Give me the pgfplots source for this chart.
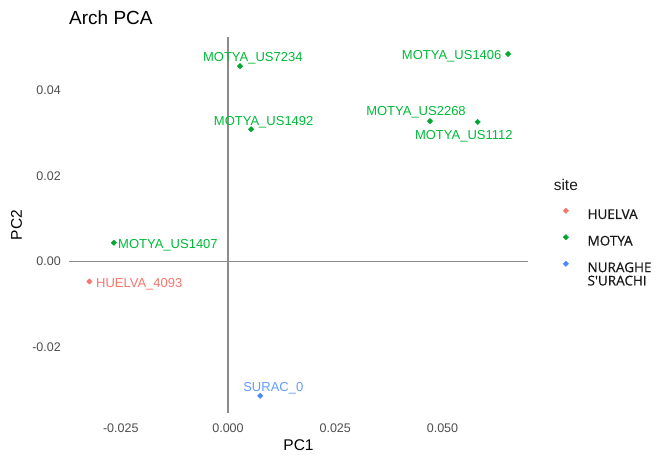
\documentclass[border=0pt]{standalone}
\usepackage{fontspec}
\setmainfont{Liberation Sans}
\newfontfamily\legfont{Open Sans}[FakeBold=0.6]
\usepackage{pgfplots}
\pgfplotsset{compat=1.18}
\definecolor{hue}{HTML}{F8766D}
\definecolor{mot}{HTML}{00BA38}
\definecolor{motpt}{HTML}{00A832}
\definecolor{nur}{HTML}{619CFF}
\definecolor{nurpt}{HTML}{4A88FF}
\definecolor{ticktxt}{HTML}{4D4D4D}
\definecolor{refline}{HTML}{8C8C8C}
\begin{document}
\begin{tikzpicture}
\useasboundingbox (0,0) rectangle (657pt,455pt);
\begin{axis}[
  at={(69pt,42pt)}, anchor=south west,
  scale only axis, width=459pt, height=376pt,
  xmin=-0.03706, xmax=0.06993, ymin=-0.03519, ymax=0.05226,
  axis line style={draw=none},
  tick style={draw=none},
  major tick length=0pt,
  xtick={-0.025,0,0.025,0.05},
  ytick={-0.02,0,0.02,0.04},
  /pgf/number format/assume math mode=true,
  xticklabel style={/pgf/number format/fixed,/pgf/number format/precision=3,/pgf/number format/fixed zerofill, font=\fontsize{12.5}{14}\selectfont, text=ticktxt, anchor=north, inner sep=0pt, yshift=-11pt},
  yticklabel style={/pgf/number format/fixed,/pgf/number format/precision=2,/pgf/number format/fixed zerofill, font=\fontsize{12.5}{14}\selectfont, text=ticktxt, anchor=east, inner sep=0pt, xshift=-8pt},
  scaled ticks=false,
  title={Arch PCA},
  title style={at={(axis description cs:0,1.0319)}, anchor=base west, yshift=-6pt, font=\fontsize{19}{21}\selectfont, inner sep=0pt},
  xlabel={PC1},
  xlabel style={at={(axis description cs:0.5,-0.0997)}, anchor=base, font=\fontsize{15.5}{17}\selectfont, inner sep=0pt},
  ylabel={PC2},
  ylabel style={at={(axis description cs:-0.1144,0.5)}, anchor=center, font=\fontsize{15.5}{17}\selectfont, inner sep=0pt},
  legend cell align=left,
  legend image code/.code={\draw[#1] plot coordinates {(0pt,4.8pt)};},
  legend style={at={(axis description cs:1.0767,0.6133)}, anchor=north west, draw=none, fill=none, inner sep=0pt, outer sep=0pt,
    font=\legfont\fontsize{13.5}{15}\selectfont, text=black!90,
    column sep=19pt, row sep=12.6pt,
    nodes={inner sep=0pt, text height=10pt, text depth=3pt}},
  clip=false,
]
\addlegendimage{empty legend}
\addlegendentry{\makebox[0pt][l]{\hspace*{-34.3pt}\raisebox{2pt}{\rmfamily\fontsize{15.5}{17}\selectfont site}}}

% reference lines at zero
\addplot[forget plot, color=refline, line width=1.2pt] coordinates {(-0.03706,0) (0.06993,0)};
\addplot[forget plot, color=refline, line width=1.2pt] coordinates {(0,-0.03519) (0,0.05226)};

% points
\addplot[only marks, mark=square*, mark size=1.9pt, color=hue, mark options={rotate=45}] coordinates {
  (-0.0323,-0.0046)
};
\addlegendentry{HUELVA}
\addplot[only marks, mark=square*, mark size=1.9pt, color=motpt, mark options={rotate=45}] coordinates {
  (0.0028,0.0455)
  (0.0054,0.0308)
  (0.0653,0.0483)
  (0.0471,0.0327)
  (0.0582,0.0325)
  (-0.0266,0.0044)
};
\addlegendentry{MOTYA}
\addplot[only marks, mark=square*, mark size=1.9pt, color=nurpt, mark options={rotate=45}] coordinates {
  (0.0075,-0.0312)
};
\addlegendentry{\begin{tabular}[t]{@{}l@{}}NURAGHE\\[-1.7pt]S'URACHI\end{tabular}}

% labels
\addplot[forget plot, only marks, mark=none, nodes near coords, point meta=explicit symbolic,
  every node near coord/.append style={anchor=center, text=mot, font=\fontsize{13}{15}\selectfont, text depth=0pt, inner sep=0pt}]
  table[meta=label] {
x y label
0.00578 0.04753 MOTYA\_US7234
0.00832 0.03279 MOTYA\_US1492
0.05214 0.04807 MOTYA\_US1406
0.04382 0.03498 MOTYA\_US2268
0.05497 0.02947 MOTYA\_US1112
-0.01399 0.00412 MOTYA\_US1407
};
\addplot[forget plot, only marks, mark=none, nodes near coords, point meta=explicit symbolic,
  every node near coord/.append style={anchor=center, text=hue, font=\fontsize{13}{15}\selectfont, text depth=0pt, inner sep=0pt}]
  table[meta=label] {
x y label
-0.02068 -0.00502 HUELVA\_4093
};
\addplot[forget plot, only marks, mark=none, nodes near coords, point meta=explicit symbolic,
  every node near coord/.append style={anchor=center, text=nur, font=\fontsize{13}{15}\selectfont, text depth=0pt, inner sep=0pt}]
  table[meta=label] {
x y label
0.01056 -0.02907 SURAC\_0
};
\end{axis}
\end{tikzpicture}
\end{document}
